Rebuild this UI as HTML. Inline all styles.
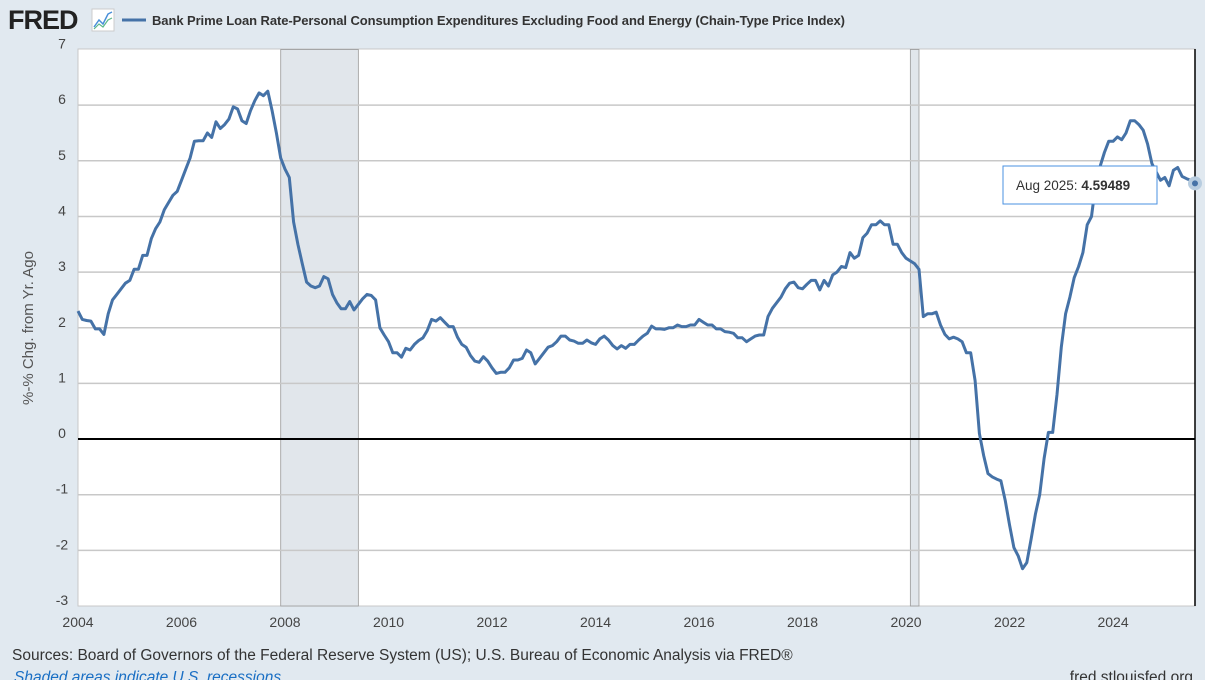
<!DOCTYPE html>
<html><head><meta charset="utf-8"><style>
body{margin:0;width:1205px;height:680px;background:#e1e9f0;overflow:hidden;font-family:"Liberation Sans",sans-serif}
svg{display:block}
</style></head><body>
<svg id="c" width="1205" height="680">
<text x="8" y="29" font-size="27" font-weight="bold" fill="#222" style="letter-spacing:-1px">FRED</text>
<g><rect x="92" y="9" width="22" height="22" fill="#fff" stroke="#ccc"/><polyline points="94,27 99,20 103,24 108,14 112,12" fill="none" stroke="#4a90d9" stroke-width="1.5"/><polyline points="94,29 99,24 103,27 108,20 112,18" fill="none" stroke="#5cb88a" stroke-width="1.2"/></g>
<line x1="122" y1="20" x2="146" y2="20" stroke="#4572a7" stroke-width="3"/>
<text x="152" y="25" font-size="13" font-weight="bold" fill="#333" textLength="693">Bank Prime Loan Rate-Personal Consumption Expenditures Excluding Food and Energy (Chain-Type Price Index)</text>
<rect x="78" y="49" width="1117" height="557" fill="#fff" stroke="#c8c8c8"/>
<g id="rec"></g><g id="grid"></g><g id="ticks"></g>
<text transform="translate(33,328) rotate(-90)" text-anchor="middle" font-size="15" fill="#555">%-% Chg. from Yr. Ago</text>
<path id="line" fill="none" stroke="#4572a7" stroke-width="3" stroke-linejoin="round"/>
<line x1="1195" y1="49" x2="1195" y2="606" stroke="#000" stroke-width="1.5"/>
<g><rect x="1003" y="166" width="154" height="38" fill="#fff" stroke="#4a90e2"/><text x="1016" y="190" font-size="13.5" fill="#333">Aug 2025:  <tspan font-weight="bold">4.59489</tspan></text></g>
<circle id="dot" r="5" fill="#4572a7" stroke="#b8cde0" stroke-width="4"/>
<text x="12" y="660" font-size="15.5" fill="#333">Sources: Board of Governors of the Federal Reserve System (US); U.S. Bureau of Economic Analysis via FRED®</text>
<text x="14" y="682" font-size="15.5" font-style="italic" fill="#1a6fc4">Shaded areas indicate U.S. recessions</text>
<text x="1193" y="682" text-anchor="end" font-size="15.5" fill="#333">fred.stlouisfed.org</text>
</svg>
<script>
const yTicks=[-3,-2,-1,0,1,2,3,4,5,6,7];
const xTicks=[2004,2006,2008,2010,2012,2014,2016,2018,2020,2022,2024];
const recessions=[[2007.917,2009.417],[2020.083,2020.25]];
const startYear=2004;
const values=[2.3,2.15,2.13,2.12,1.98,1.98,1.88,2.25,2.5,2.6,2.7,2.8,
2.85,3.05,3.05,3.3,3.3,3.6,3.78,3.9,4.12,4.25,4.38,4.45,
4.65,4.85,5.05,5.35,5.36,5.36,5.5,5.42,5.7,5.58,5.65,5.75,
5.97,5.93,5.72,5.67,5.9,6.08,6.22,6.17,6.25,5.9,5.5,5.05,
4.85,4.7,3.9,3.5,3.15,2.82,2.75,2.72,2.75,2.92,2.88,2.6,
2.45,2.34,2.34,2.47,2.32,2.42,2.52,2.6,2.58,2.5,2.0,1.87,
1.75,1.55,1.55,1.47,1.63,1.6,1.7,1.77,1.82,1.95,2.15,2.12,
2.18,2.1,2.02,2.02,1.83,1.7,1.65,1.5,1.4,1.38,1.48,1.4,
1.28,1.18,1.2,1.2,1.28,1.42,1.42,1.45,1.6,1.55,1.35,1.45,
1.55,1.65,1.68,1.75,1.85,1.85,1.78,1.76,1.72,1.72,1.78,1.73,
1.7,1.8,1.85,1.78,1.68,1.62,1.68,1.63,1.7,1.7,1.78,1.85,
1.9,2.03,1.98,1.98,1.97,2.0,2.0,2.05,2.02,2.02,2.05,2.05,
2.15,2.1,2.05,2.05,1.98,1.98,1.93,1.92,1.9,1.82,1.82,1.75,
1.8,1.85,1.87,1.87,2.2,2.35,2.45,2.55,2.7,2.8,2.82,2.72,
2.7,2.78,2.85,2.85,2.68,2.85,2.75,2.95,3.0,3.1,3.08,3.35,
3.25,3.3,3.62,3.7,3.85,3.85,3.92,3.85,3.85,3.5,3.5,3.35,
3.25,3.2,3.15,3.05,2.2,2.25,2.25,2.28,2.05,1.88,1.8,1.83,
1.8,1.75,1.55,1.55,1.05,0.1,-0.3,-0.62,-0.68,-0.72,-0.75,-1.1,
-1.55,-1.95,-2.1,-2.33,-2.22,-1.8,-1.35,-1.0,-0.35,0.12,0.12,0.8,
1.65,2.25,2.55,2.9,3.1,3.35,3.85,4.0,4.6,4.9,5.15,5.35,
5.35,5.43,5.38,5.5,5.72,5.72,5.65,5.55,5.3,4.95,4.8,4.65,
4.7,4.55,4.83,4.88,4.72,4.68,4.65,4.59489];
const NS='http://www.w3.org/2000/svg';
const L=78,R=1195,T=49.5,B=606;
const lastT=startYear+(values.length-1)/12;
function x(t){return L+(t-startYear)/(lastT-startYear)*(R-L);}
function y(v){return B-(v+3)/10*(B-T);}
function mk(tag,par,at){const e=document.createElementNS(NS,tag);for(const k in at)e.setAttribute(k,at[k]);document.getElementById(par).appendChild(e);return e;}
recessions.forEach(r=>{
 const e=mk('rect','rec',{x:x(r[0]),y:T,width:x(r[1])-x(r[0]),height:B-T,fill:'#e1e6eb',stroke:'#999','stroke-width':0.8});
 
 
});
yTicks.forEach(v=>{
 if(v>-3&&v<7){const g=mk('line','grid',{x1:L,x2:R,y1:y(v),y2:y(v),stroke:v===0?'#000':'#c8c8c8','stroke-width':v===0?2:1.5});
 
 }
 const t=mk('text','ticks',{x:62,y:y(v)-1,'text-anchor':'middle','font-size':14,fill:'#444'});t.textContent=v;
 
 
});
xTicks.forEach(v=>{
 const t=mk('text','ticks',{x:x(v),y:627,'text-anchor':'middle','font-size':14,fill:'#444'});t.textContent=v;
 
 
});
document.getElementById('line').setAttribute('d',values.map((v,i)=>(i?'L':'M')+x(startYear+i/12).toFixed(1)+','+y(v).toFixed(1)).join(''));
const d=document.getElementById('dot');d.setAttribute('cx',x(lastT));d.setAttribute('cy',y(values[values.length-1]));
</script>
</body></html>
